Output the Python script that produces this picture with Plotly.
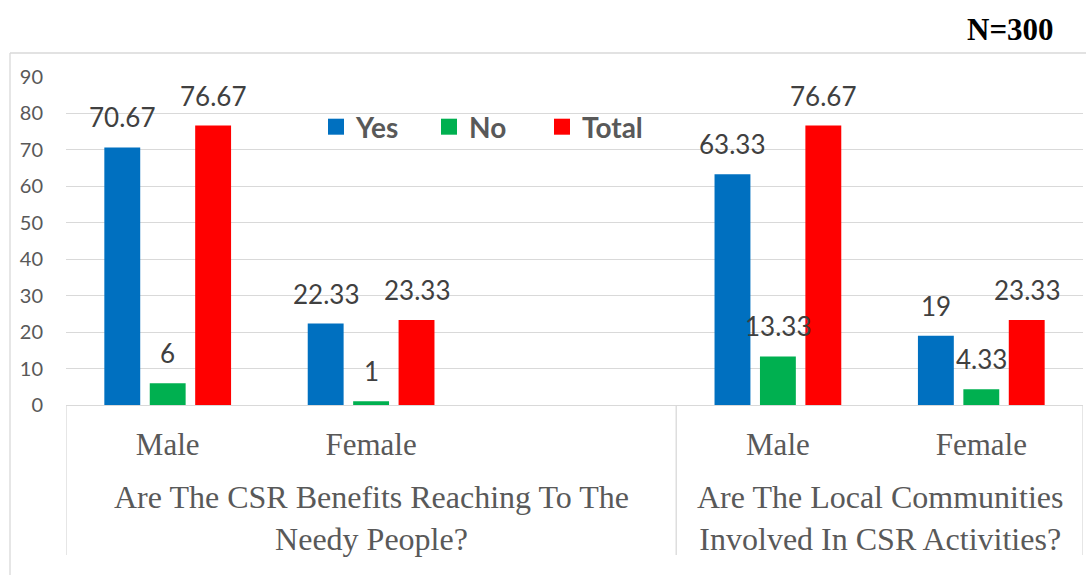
import plotly.graph_objects as go

# ---- data ----
positions = [0, 1, 3, 4]                      # slot 2 is an empty category
sub_labels = ["Male", "Female", "Male", "Female"]
group_labels = ["Are The CSR Benefits Reaching To The<br>Needy People?",
                "Are The Local Communities<br>Involved In CSR Activities?"]
group_centers = [1, 3.5]
series_names = ["Yes", "No", "Total"]
yes_vals = [70.67, 22.33, 63.33, 19]
no_vals = [6, 1, 13.33, 4.33]
total_vals = [76.67, 23.33, 76.67, 23.33]
colors = ["#0070C0", "#00B050", "#FF0000"]
y_ticks = [0, 10, 20, 30, 40, 50, 60, 70, 80, 90]

series_vals = [yes_vals, no_vals, total_vals]

BARGAP = 0.33
BARGROUPGAP = 0.21
GRID = "#D9D9D9"
TXT = "#595959"

fig = go.Figure()
for name, vals, col in zip(series_names, series_vals, colors):
    fig.add_trace(go.Bar(x=positions, y=vals, name=name, marker_color=col,
                         marker_line_width=0, showlegend=False))
# legend entries with larger square swatches
for name, col in zip(series_names, colors):
    fig.add_trace(go.Scatter(x=[None], y=[None], mode="markers", name=name,
                             marker=dict(symbol="square", size=16, color=col)))

W, H = 1086, 575
L, R, T, B = 66, 3, 77, 170
pw, ph = W - L - R, H - T - B

# data labels
pitch = (1 - BARGAP) / 3
annotations = []
for k, vals in enumerate(series_vals):
    for p, v in zip(positions, vals):
        annotations.append(dict(x=p + (k - 1) * pitch, y=v, xref="x", yref="y",
                                text=f"{v:g}", showarrow=False, yanchor="bottom",
                                yshift=12, font=dict(family="Lato", size=26, color="#404040")))
for c, t in zip(group_centers, group_labels):
    annotations.append(dict(x=c, y=-0.345, xref="x", yref="paper", text=t,
                            showarrow=False, yanchor="middle",
                            font=dict(family="Liberation Serif", size=32, color=TXT)))
annotations.append(dict(x=(1056 - L) / pw, y=(H - B - 30) / ph, xref="paper", yref="paper",
                        text="<b>N=300</b>", showarrow=False, xanchor="right", yanchor="middle",
                        font=dict(family="Liberation Serif", size=31, color="#000000")))

shapes = []
for xv in [-0.5, 2.5, 4.5]:
    shapes.append(dict(type="line", xref="x", yref="paper", x0=xv, x1=xv,
                       y0=0, y1=-(555 - 405) / ph, line=dict(color=GRID, width=1.3)))
# chart border (top and left)
shapes.append(dict(type="line", xref="paper", yref="paper", x0=(10 - L) / pw, x1=1.02,
                   y0=(405 - 53) / ph, y1=(405 - 53) / ph, line=dict(color=GRID, width=1.3)))
shapes.append(dict(type="line", xref="paper", yref="paper", x0=(10 - L) / pw, x1=(10 - L) / pw,
                   y0=(405 - 53) / ph, y1=-0.6, line=dict(color=GRID, width=1.3)))

fig.update_layout(
    width=W, height=H,
    margin=dict(l=L, r=R, t=T, b=B),
    paper_bgcolor="white", plot_bgcolor="white",
    barmode="group", bargap=BARGAP, bargroupgap=BARGROUPGAP,
    annotations=annotations, shapes=shapes,
    legend=dict(orientation="h", x=(316 - L) / pw, y=(405 - 127) / ph,
                xanchor="left", yanchor="middle", entrywidth=68,
                font=dict(family="Lato", size=28, color=TXT, weight="bold"),
                bgcolor="rgba(0,0,0,0)"),
    xaxis=dict(range=[-0.5, 4.5], tickvals=positions, ticktext=sub_labels,
               showgrid=False, zeroline=False, showline=True, linecolor=GRID, linewidth=1.3,
               ticks="outside", ticklen=12, tickcolor="rgba(0,0,0,0)",
               tickfont=dict(family="Liberation Serif", size=31, color=TXT)),
    yaxis=dict(range=[0, 90], tickvals=y_ticks, showgrid=True, gridcolor=GRID, gridwidth=1.3,
               zeroline=False, showline=False, ticks="", ticklabelstandoff=22,
               tickfont=dict(family="Lato", size=20, color=TXT)),
)

fig.write_html("out.html")
